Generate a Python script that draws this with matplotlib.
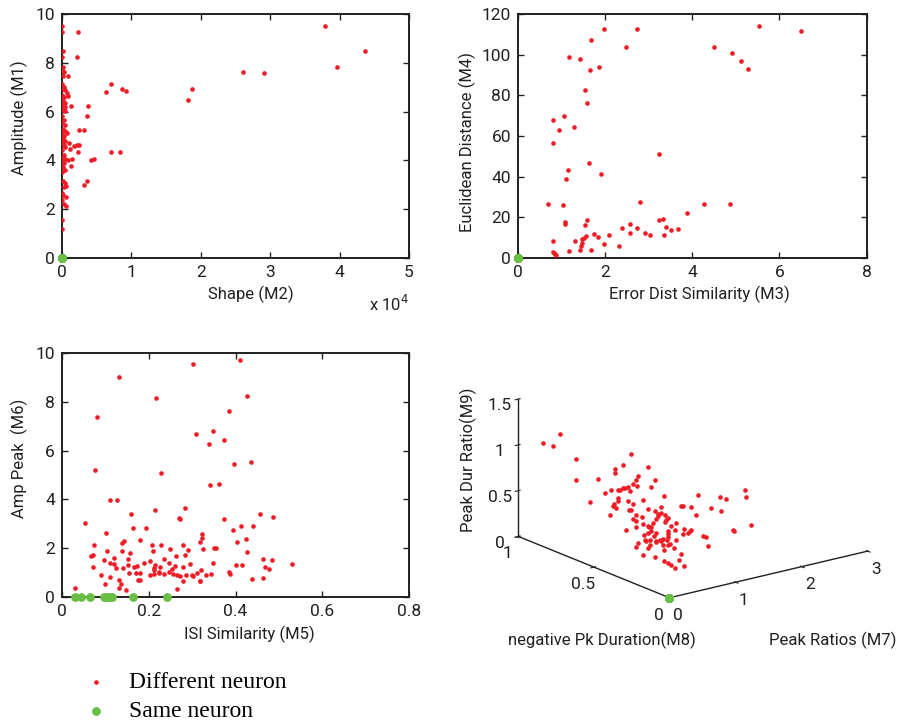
import matplotlib
matplotlib.use("Agg")
import matplotlib.pyplot as plt
from matplotlib.ticker import FuncFormatter

plt.rcParams['font.family'] = ['Roboto', 'DejaVu Sans']

RED = '#ee1c25'
GREEN = '#6abd45'
INK = '#231f20'

# ---- panel 1: Shape (M2, in units of 1e4) vs Amplitude (M1)
m2_shape = [3.79, 4.36, 3.96, 2.61, 2.91, 1.81, 1.88, 0.71, 0.64, 0.86, 0.92, 0.71, 0.84,
            0.23, 0.22, 0.38, 0.36, 0.32, 0.24, 0.24, 0.21, 0.17, 0.12, 0.23, 0.08, 0.13,
            0.14, 0.13, 0.42, 0.46, 0.36, 0.32, 0.07, 0.10, 0.08, 0.07, 0.08, 0.06, 0.06, 0.06,
            0.00, 0.00, 0.014, 0.00, 0.014, 0.01, 0.024, 0.014, 0.005, 0.029, 0.014, 0.038,
            0.00, 0.029, 0.014, 0.038, 0.00, 0.048, 0.014, 0.038, 0.00, 0.029, 0.00, 0.038,
            0.014, 0.038, 0.00, 0.029, 0.01, 0.048, 0.00, 0.024, 0.038, 0.00, 0.029, 0.005,
            0.048, 0.00, 0.029, 0.014, 0.038, 0.00, 0.014, 0.048, 0.029, 0.00, 0.014, 0.00,
            0.029, 0.00, 0.00]
m1_amp = [9.52, 8.48, 7.82, 7.63, 7.56, 6.48, 6.94, 7.13, 6.80, 6.94, 6.85, 4.35, 4.35,
          9.27, 8.24, 6.24, 5.83, 5.25, 5.25, 4.65, 4.62, 4.58, 4.46, 4.35, 7.46, 6.22,
          4.05, 3.75, 4.01, 4.05, 3.15, 2.98, 5.13, 4.72, 4.01, 6.76, 6.65, 2.94, 2.49, 2.13,
          9.52, 9.28, 8.48, 8.25, 7.81, 7.66, 7.61, 7.47, 7.13, 7.02, 6.93, 6.89,
          6.69, 6.58, 6.48, 6.37, 6.27, 6.20, 6.07, 6.02, 5.82, 5.66, 5.55, 5.46,
          5.27, 5.20, 5.11, 5.00, 4.86, 4.80, 4.70, 4.63, 4.54, 4.43, 4.22, 4.15,
          4.06, 3.95, 3.88, 3.74, 3.61, 3.54, 3.17, 3.06, 2.92, 2.68, 2.58, 2.38,
          2.20, 1.56, 1.19]

# ---- panel 2: Error Dist Similarity (M3) vs Euclidean Distance (M4)
m3_err = [5.54, 6.50, 1.98, 2.74, 1.68, 2.47, 4.49, 4.92, 5.11, 5.27, 1.18, 1.42, 1.65, 1.87,
          1.53, 1.59, 1.06, 0.81, 0.95, 1.29, 0.81, 3.24, 1.62, 1.91, 1.15, 1.10, 0.69, 1.03,
          2.79, 4.28, 4.86, 3.87, 1.07, 1.09, 1.59, 1.54, 3.24, 3.33, 2.57, 3.40, 2.38, 2.74,
          3.51, 3.67, 2.92, 3.02, 3.35, 2.58, 1.74, 1.84, 2.09, 1.57, 1.51, 1.46, 1.48, 1.45,
          1.43, 1.68, 1.30, 0.80, 1.16, 1.97, 2.32, 0.80, 0.84, 0.88, 0.82]
m4_eucl = [114.3, 111.8, 112.8, 112.8, 107.4, 103.8, 103.8, 100.8, 97.0, 92.8, 98.9, 97.9, 92.4, 94.1,
           82.6, 76.0, 69.8, 67.8, 62.9, 64.2, 56.3, 51.2, 46.8, 41.4, 43.2, 38.8, 26.6, 26.1,
           27.6, 26.4, 26.6, 22.3, 17.9, 16.9, 18.9, 16.3, 18.9, 19.4, 16.6, 15.1, 14.8, 14.6,
           13.6, 14.1, 12.5, 11.5, 11.5, 12.2, 12.0, 10.3, 11.3, 11.0, 10.0, 9.2, 7.6, 5.8,
           4.1, 3.9, 8.2, 8.4, 3.3, 6.7, 5.7, 3.0, 2.1, 1.6, 2.6]

# ---- panel 3: ISI Similarity (M5) vs Amp Peak (M6)
m5_isi = [0.410, 0.301, 0.132, 0.216, 0.426, 0.081, 0.384, 0.348, 0.308, 0.373, 0.340, 0.396,
          0.435, 0.075, 0.229, 0.341, 0.363, 0.111, 0.127, 0.052, 0.160, 0.215, 0.283, 0.270,
          0.272, 0.164, 0.193, 0.374, 0.456, 0.487, 0.413, 0.441, 0.395, 0.101, 0.074, 0.139,
          0.142, 0.179, 0.208, 0.229, 0.279, 0.319, 0.323, 0.323, 0.325, 0.350, 0.354, 0.403,
          0.424, 0.291, 0.426, 0.248, 0.210, 0.104, 0.138, 0.156, 0.067, 0.072, 0.120, 0.097,
          0.153, 0.236, 0.203, 0.189, 0.173, 0.165, 0.215, 0.212, 0.227, 0.247, 0.263, 0.261,
          0.254, 0.278, 0.295, 0.321, 0.349, 0.400, 0.416, 0.464, 0.485, 0.469, 0.478, 0.531,
          0.386, 0.387, 0.343, 0.332, 0.285, 0.300, 0.301, 0.271, 0.266, 0.256, 0.235, 0.246,
          0.223, 0.211, 0.211, 0.202, 0.171, 0.180, 0.175, 0.179, 0.154, 0.153, 0.141, 0.125,
          0.111, 0.110, 0.090, 0.071, 0.099, 0.132, 0.131, 0.135, 0.148, 0.266, 0.279, 0.317,
          0.319, 0.437, 0.464, 0.029, 0.120, 0.224, 0.284, 0.312]
m6_amppk = [9.70, 9.54, 9.03, 8.16, 8.22, 7.38, 7.61, 6.79, 6.67, 6.45, 6.27, 5.46,
            5.53, 5.22, 5.07, 4.60, 4.63, 3.98, 3.99, 3.02, 3.42, 3.57, 3.65, 3.24,
            3.20, 2.84, 2.84, 3.21, 3.39, 3.27, 2.92, 2.92, 2.73, 2.62, 2.14, 2.21,
            2.28, 2.32, 2.13, 2.12, 2.13, 2.24, 2.40, 2.57, 1.95, 2.01, 2.02, 2.27,
            2.39, 1.91, 1.84, 1.98, 1.89, 1.87, 1.90, 1.79, 1.69, 1.70, 1.60, 1.52,
            1.57, 1.54, 1.49, 1.38, 1.28, 1.23, 1.31, 1.20, 1.22, 1.41, 1.67, 1.28,
            1.13, 1.22, 1.34, 1.12, 1.39, 1.30, 1.31, 1.56, 1.53, 1.24, 1.13, 1.34,
            1.02, 0.96, 0.94, 0.92, 0.89, 0.89, 0.85, 0.87, 0.89, 0.94, 0.96, 1.01,
            1.00, 1.09, 0.96, 0.89, 0.98, 1.00, 0.71, 0.68, 0.98, 1.30, 1.19, 1.19,
            1.38, 0.82, 0.90, 1.22, 0.55, 0.71, 0.37, 0.55, 0.29, 0.34, 0.66, 0.64,
            0.66, 0.72, 0.78, 0.37, 1.37, 1.02, 1.71, 1.00]

# ---- panel 4: Peak Ratios (M7), negative Pk Duration (M8), Peak Dur Ratio (M9)
m7_pkratio = [0.31, 0.21, 0.27, 0.41, 0.41, 0.74, 0.69, 0.64, 0.64, 0.84, 0.78, 0.77, 0.88,
              0.77, 0.75, 0.54, 0.72, 0.70, 0.69, 0.67, 0.66, 0.62, 0.73, 0.58, 0.86, 0.49,
              0.66, 0.66, 0.64, 0.63, 0.65, 0.72, 0.75, 0.61, 0.81, 0.94, 0.73, 0.74, 0.77,
              0.80, 0.84, 0.88, 0.92, 0.90, 0.92, 0.94, 0.75, 0.77, 0.77, 0.71, 0.81, 0.84,
              0.85, 0.86, 0.87, 0.89, 0.90, 0.96, 0.95, 0.94, 0.98, 1.01, 1.05, 1.04, 1.10,
              1.14, 1.13, 1.22, 1.27, 1.31, 1.28, 1.42, 1.43, 1.46, 1.35, 1.36, 1.17, 1.19,
              1.20, 1.06, 1.05, 1.09, 1.10, 1.08, 1.00, 0.96, 0.96, 0.96, 0.95, 0.93, 0.92,
              0.89, 0.88, 0.86, 0.84, 0.82, 0.82, 0.83, 0.85, 0.85, 0.84, 0.78, 0.77, 0.89,
              0.89, 0.93, 0.96, 0.97, 1.01, 1.00, 1.04, 0.29, 0.47, 0.60, 0.66, 0.71, 0.65,
              0.83, 0.79, 0.94, 0.91]
m8_negpk = [0.86, 0.93, 0.89, 0.80, 0.80, 0.58, 0.61, 0.64, 0.64, 0.51, 0.55, 0.56, 0.48,
            0.55, 0.57, 0.71, 0.59, 0.60, 0.61, 0.62, 0.63, 0.66, 0.58, 0.68, 0.50, 0.74,
            0.63, 0.63, 0.65, 0.65, 0.64, 0.59, 0.57, 0.66, 0.53, 0.45, 0.59, 0.58, 0.56,
            0.53, 0.51, 0.48, 0.46, 0.47, 0.46, 0.44, 0.57, 0.56, 0.56, 0.60, 0.53, 0.51,
            0.51, 0.50, 0.49, 0.48, 0.47, 0.43, 0.44, 0.44, 0.42, 0.40, 0.37, 0.38, 0.34,
            0.31, 0.32, 0.26, 0.22, 0.20, 0.22, 0.12, 0.12, 0.10, 0.17, 0.17, 0.29, 0.28,
            0.27, 0.37, 0.37, 0.34, 0.34, 0.35, 0.40, 0.43, 0.43, 0.43, 0.43, 0.45, 0.46,
            0.48, 0.49, 0.50, 0.51, 0.53, 0.52, 0.52, 0.50, 0.50, 0.51, 0.55, 0.56, 0.48,
            0.48, 0.45, 0.43, 0.42, 0.40, 0.41, 0.38, 0.30, 0.30, 0.30, 0.30, 0.30, 0.25,
            0.30, 0.25, 0.45, 0.46]
m9_pkdur = [1.16, 1.03, 1.02, 0.91, 0.68, 1.05, 0.92, 0.87, 0.83, 0.94, 0.83, 0.78, 0.81,
            0.72, 0.73, 0.73, 0.69, 0.68, 0.67, 0.65, 0.64, 0.63, 0.65, 0.59, 0.73, 0.47,
            0.56, 0.52, 0.48, 0.46, 0.44, 0.54, 0.52, 0.36, 0.58, 0.65, 0.44, 0.44, 0.40,
            0.39, 0.48, 0.48, 0.53, 0.45, 0.46, 0.45, 0.35, 0.33, 0.27, 0.22, 0.31, 0.30,
            0.29, 0.29, 0.34, 0.39, 0.43, 0.42, 0.39, 0.37, 0.34, 0.38, 0.58, 0.57, 0.58,
            0.72, 0.50, 0.60, 0.74, 0.72, 0.58, 0.85, 0.78, 0.48, 0.40, 0.38, 0.28, 0.27,
            0.18, 0.32, 0.27, 0.32, 0.32, 0.29, 0.30, 0.28, 0.24, 0.21, 0.18, 0.18, 0.16,
            0.24, 0.20, 0.25, 0.22, 0.19, 0.14, 0.13, 0.15, 0.10, 0.06, 0.10, 0.05, 0.15,
            0.14, 0.12, 0.13, 0.14, 0.19, 0.10, 0.05, 0.22, 0.16, 0.10, 0.07, 0.04, 0.05,
            0.07, 0.04, 0.06, 0.17]

# ---- same neuron pairs (only ISI similarity differs from zero)
same_m1 = [0, 0, 0, 0, 0, 0, 0, 0, 0, 0]
same_m2 = [0, 0, 0, 0, 0, 0, 0, 0, 0, 0]
same_m3 = [0, 0, 0, 0, 0, 0, 0, 0, 0, 0]
same_m4 = [0, 0, 0, 0, 0, 0, 0, 0, 0, 0]
same_m5 = [0.029, 0.043, 0.064, 0.096, 0.101, 0.106, 0.111, 0.115, 0.163, 0.243]
same_m6 = [0, 0, 0, 0, 0, 0, 0, 0, 0, 0]
same_m7 = [0, 0, 0, 0, 0, 0, 0, 0, 0, 0]
same_m8 = [0, 0, 0, 0, 0, 0, 0, 0, 0, 0]
same_m9 = [0, 0, 0, 0, 0, 0, 0, 0, 0, 0]

fmt = FuncFormatter(lambda v, p: f"{v:g}")
RS = 11     # red dot size
GS = 40     # green dot size


def style(ax, xlim, ylim, xticks, yticks):
    ax.set_xlim(xlim)
    ax.set_ylim(ylim)
    ax.set_xticks(xticks)
    ax.set_yticks(yticks)
    ax.xaxis.set_major_formatter(fmt)
    ax.yaxis.set_major_formatter(fmt)
    ax.tick_params(direction='in', top=True, right=True, length=4, width=1,
                   color=INK, labelcolor=INK, labelsize=12.5, pad=5)
    for s in ax.spines.values():
        s.set_linewidth(1.4)
        s.set_color(INK)


fig = plt.figure(figsize=(8.97, 7.23), dpi=100)

# panel 4 (3D) first, so the flat panels draw over its empty area
ax4 = fig.add_axes([0.5167, 0.0605, 0.50, 0.55], projection='3d')
ax4.set_facecolor((1, 1, 1, 0))
ax4.set_proj_type('ortho')
ax4.scatter(m7_pkratio, m8_negpk, m9_pkdur, s=RS, c=RED, linewidths=0, depthshade=False)
ax4.scatter(same_m7, same_m8, same_m9, s=GS, c=GREEN, linewidths=0, depthshade=False)
ax4.set_xlim(0, 3)
ax4.set_ylim(0, 1)
ax4.set_zlim(0, 1.5)
ax4.set_xticks([0, 1, 2, 3])
ax4.set_yticks([0, 0.5, 1])
ax4.set_zticks([0, 0.5, 1, 1.5])
ax4.set_box_aspect((1, 1, 0.58), zoom=0.93)
ax4.view_init(elev=18, azim=-127.3)
ax4.grid(False)
for axis in (ax4.xaxis, ax4.yaxis, ax4.zaxis):
    axis.set_major_formatter(fmt)
    axis.pane.set_visible(False)
    axis.line.set_color(INK)
    axis.line.set_linewidth(1.0)
ax4.tick_params(labelsize=12.5, colors=INK, pad=0)
fig.text(0.5217, 0.3638, 'Peak Dur Ratio(M9)', rotation=90, ha='center', va='center',
         fontsize=12, color=INK)
fig.text(0.6711, 0.1148, 'negative Pk Duration(M8)', ha='center', va='center',
         fontsize=12, color=INK)
fig.text(0.9287, 0.1148, 'Peak Ratios (M7)', ha='center', va='center',
         fontsize=12, color=INK)

# panel 1
ax1 = fig.add_axes([0.0691, 0.6432, 0.3869, 0.3375])
h_red = ax1.scatter(m2_shape, m1_amp, s=RS, c=RED, linewidths=0, zorder=3)
h_green = ax1.scatter(same_m2, same_m1, s=GS, c=GREEN, linewidths=0, zorder=4, clip_on=False)
style(ax1, (0, 5), (0, 10), [0, 1, 2, 3, 4, 5], [0, 2, 4, 6, 8, 10])
ax1.set_xlabel('Shape (M2)', fontsize=12, color=INK, va='center')
ax1.set_ylabel('Amplitude (M1)', fontsize=12, color=INK, va='center')
ax1.xaxis.set_label_coords(0.545, -0.148)
ax1.yaxis.set_label_coords(-0.124, 0.574)
ax1.text(1.0, -0.19, r'x 10$^4$', transform=ax1.transAxes, ha='right', va='center',
         fontsize=12, color=INK)

# panel 2
ax2 = fig.add_axes([0.5775, 0.6432, 0.3885, 0.3375])
ax2.scatter(m3_err, m4_eucl, s=RS, c=RED, linewidths=0, zorder=3)
ax2.scatter(same_m3, same_m4, s=GS, c=GREEN, linewidths=0, zorder=4, clip_on=False)
style(ax2, (0, 8), (0, 120), [0, 2, 4, 6, 8], [0, 20, 40, 60, 80, 100, 120])
ax2.set_xlabel('Error Dist Similarity (M3)', fontsize=12, color=INK, va='center')
ax2.set_ylabel('Euclidean Distance (M4)', fontsize=12, color=INK, va='center')
ax2.xaxis.set_label_coords(0.519, -0.148)
ax2.yaxis.set_label_coords(-0.146, 0.477)

# panel 3
ax3 = fig.add_axes([0.0691, 0.1743, 0.3869, 0.3375])
ax3.scatter(m5_isi, m6_amppk, s=RS, c=RED, linewidths=0, zorder=3)
ax3.scatter(same_m5, same_m6, s=GS, c=GREEN, linewidths=0, zorder=4, clip_on=False)
style(ax3, (0, 0.8), (0, 10), [0, 0.2, 0.4, 0.6, 0.8], [0, 2, 4, 6, 8, 10])
ax3.set_xlabel('ISI Similarity (M5)', fontsize=12, color=INK, va='center')
ax3.set_ylabel('Amp Peak  (M6)', fontsize=12, color=INK, va='center')
ax3.xaxis.set_label_coords(0.539, -0.152)
ax3.yaxis.set_label_coords(-0.124, 0.570)

# legend
fig.legend(handles=[h_red, h_green], labels=['Different neuron', 'Same neuron'],
           loc='upper left', bbox_to_anchor=(0.0825, 0.071), frameon=False,
           prop={'family': 'Liberation Serif', 'size': 17}, handlelength=1.9,
           handletextpad=0.45, labelspacing=0.3, borderpad=0, borderaxespad=0,
           scatterpoints=1)

fig.savefig('out.png', dpi=100)
